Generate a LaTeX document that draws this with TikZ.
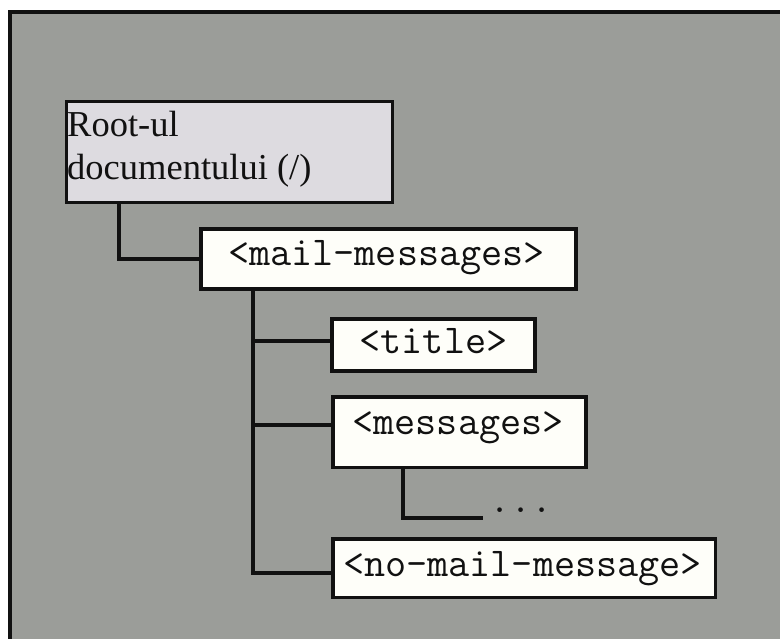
\documentclass[tikz,border=0pt]{standalone}
\usepackage{fontspec}
\setmainfont{Liberation Serif}
\definecolor{panel}{HTML}{9B9D99}
\definecolor{rootfill}{HTML}{DDDBE0}
\definecolor{boxfill}{HTML}{FEFEF9}
\definecolor{ink}{HTML}{111111}
\tikzset{
  rootbox/.style={draw=ink, fill=rootfill, line width=3pt, inner sep=0pt, anchor=north west},
  elembox/.style={draw=ink, fill=boxfill, line width=3.5pt, inner sep=0pt, anchor=north west},
  serifText/.style={inner sep=0pt, anchor=base west, font=\fontsize{36.5}{40}\selectfont, text=ink},
  codeText/.style={inner sep=0pt, anchor=base, font=\ttfamily\fontsize{41}{44}\selectfont, text=ink},
  link/.style={draw=ink, line width=3.3pt},
  rootlink/.style={draw=ink, line width=4.5pt}
}
\begin{document}
\begin{tikzpicture}[x=1pt, y=-1pt]
\useasboundingbox (0,0) rectangle (780,639);
% grey panel, running past the right and bottom edges
\begin{scope}
  \clip (0,0) rectangle (780,639);
  \fill[white] (0,0) rectangle (780,639);
  \draw[draw=ink, line width=4.5pt, fill=panel] (10,12) rectangle (800,660);
\end{scope}

% boxes
\node[rootbox, minimum width=326pt, minimum height=101pt] (root) at (64.5,100.5) {};
\node[elembox, line width=4pt, minimum width=375pt, minimum height=60pt] (mail) at (199,227) {};
\node[elembox, line width=4pt, minimum width=203pt, minimum height=52pt] (title) at (330,317) {};
\node[elembox, minimum width=253pt, minimum height=70.5pt] (msgs) at (331,395) {};
\node[elembox, minimum width=382.5pt, minimum height=58.5pt] (nomail) at (331,537) {};

% labels
\node[serifText] (rootA) at (67,137) {Root-ul};
\node[serifText] (rootB) at (67,180) {documentului (/)};
\node[codeText] (mailT) at (386.5,266) {<mail-messages>};
\node[codeText] (titleT) at (433.5,354) {<title>};
\node[codeText] (msgsT) at (458,435) {<messages>};
\node[codeText] (nomailT) at (522.5,576) {<no-mail-message>};
\node[codeText] (dots) at (521,512) {...};

% connectors
\coordinate (rootdrop) at (119,201.5);
\coordinate (tx) at (253,0);
\coordinate (bTitle) at (253,341);
\coordinate (bMsgs) at (253,425);
\coordinate (bNomail) at (253,573);
\coordinate (sx) at (403,0);
\coordinate (subEnd) at (483,518);

\draw[rootlink] (rootdrop) |- (mail.west);
\draw[link] (tx |- mail.south) -- (bNomail) -- (bNomail -| nomail.west);
\draw[link] (bTitle) -- (bTitle -| title.west);
\draw[link] (bMsgs) -- (bMsgs -| msgs.west);
\draw[link] (sx |- msgs.south) |- (subEnd);
\end{tikzpicture}
\end{document}
